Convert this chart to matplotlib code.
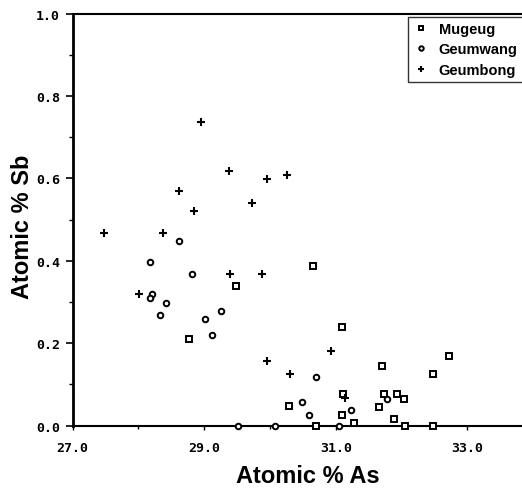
import matplotlib
matplotlib.use("Agg")
import matplotlib.pyplot as plt
from matplotlib.ticker import MultipleLocator, FormatStrFormatter

# Data
mugeug_as = [28.77, 29.48, 30.29, 30.66, 30.70, 31.10, 31.11, 31.09, 31.27, 31.71,
             31.66, 31.73, 31.88, 31.93, 32.04, 32.05, 32.47, 32.47, 32.72]
mugeug_sb = [0.210, 0.338, 0.047, 0.387, 0.000, 0.239, 0.076, 0.027, 0.006, 0.146,
             0.045, 0.076, 0.016, 0.076, 0.066, 0.000, 0.126, 0.000, 0.168]

geumwang_as = [28.17, 28.21, 28.18, 28.33, 28.42, 28.61, 28.81, 29.02, 29.12, 29.25,
               29.52, 30.07, 30.49, 30.59, 30.70, 31.05, 31.23, 31.78]
geumwang_sb = [0.398, 0.319, 0.309, 0.269, 0.299, 0.448, 0.367, 0.260, 0.220, 0.279,
               0.000, 0.000, 0.057, 0.027, 0.117, 0.000, 0.037, 0.065]

geumbong_as = [27.48, 28.01, 28.37, 28.61, 28.85, 28.95, 29.37, 29.39, 29.73, 29.88,
               29.95, 29.95, 30.26, 30.31, 30.92, 31.14]
geumbong_sb = [0.467, 0.319, 0.467, 0.570, 0.520, 0.738, 0.619, 0.367, 0.540, 0.367,
               0.599, 0.157, 0.609, 0.126, 0.181, 0.068]

x_ticks = [27.0, 29.0, 31.0, 33.0]
y_ticks = [0.0, 0.2, 0.4, 0.6, 0.8, 1.0]

fig = plt.figure(figsize=(5.22, 4.89), dpi=100)
ax = fig.add_axes([0.139, 0.1274, 0.861, 0.8426])

ax.plot(mugeug_as, mugeug_sb, linestyle='none', marker='s', markersize=4.0,
        markerfacecolor='white', markeredgecolor='black', markeredgewidth=1.4,
        label='Mugeug', clip_on=False, zorder=3)
ax.plot(geumwang_as, geumwang_sb, linestyle='none', marker='o', markersize=4.0,
        markerfacecolor='white', markeredgecolor='black', markeredgewidth=1.4,
        label='Geumwang', clip_on=False, zorder=3)
ax.plot(geumbong_as, geumbong_sb, linestyle='none', marker='+', markersize=5.5,
        color='black', markeredgewidth=1.5, label='Geumbong', clip_on=False, zorder=3)

ax.set_xlim(27.0, 33.83)
ax.set_ylim(0.0, 1.0)
ax.set_xticks(x_ticks)
ax.set_yticks(y_ticks)
ax.xaxis.set_minor_locator(MultipleLocator(1.0))
ax.yaxis.set_minor_locator(MultipleLocator(0.1))
ax.xaxis.set_major_formatter(FormatStrFormatter('%.1f'))
ax.yaxis.set_major_formatter(FormatStrFormatter('%.1f'))

for lab in ax.get_xticklabels() + ax.get_yticklabels():
    lab.set_fontfamily('DejaVu Sans Mono')
    lab.set_fontweight('bold')
    lab.set_fontsize(9.5)

ax.tick_params(axis='y', which='major', direction='out', length=5, width=1.2, pad=4)
ax.tick_params(axis='y', which='minor', direction='out', length=3, width=1.0)
ax.tick_params(axis='x', which='major', direction='out', length=3, width=1.0, pad=8)
ax.tick_params(axis='x', which='minor', direction='out', length=2, width=1.0)

ax.spines['right'].set_visible(False)
ax.spines['left'].set_linewidth(2.0)
ax.spines['bottom'].set_linewidth(1.5)
ax.spines['top'].set_linewidth(1.5)

ax.set_xlabel('Atomic % As', fontsize=17, fontweight='bold',
              fontfamily='Liberation Sans')
ax.set_ylabel('Atomic % Sb', fontsize=17, fontweight='bold',
              fontfamily='Liberation Sans')
ax.xaxis.set_label_coords(0.524, -0.121)
ax.xaxis.label.set_verticalalignment('center')
ax.yaxis.set_label_coords(-0.111, 0.485)
ax.yaxis.label.set_verticalalignment('center')

leg = ax.legend(loc='upper left', bbox_to_anchor=(0.782, 0.964),
                bbox_transform=fig.transFigure, frameon=True, fancybox=False,
                prop={'family': 'Liberation Sans', 'weight': 'bold', 'size': 10.5},
                handlelength=1.05, handletextpad=0.7, borderpad=0.35,
                labelspacing=0.45, markerscale=0.8, borderaxespad=0)
leg.get_frame().set_edgecolor('black')
leg.get_frame().set_linewidth(1.0)

fig.savefig('out.png', dpi=100)
